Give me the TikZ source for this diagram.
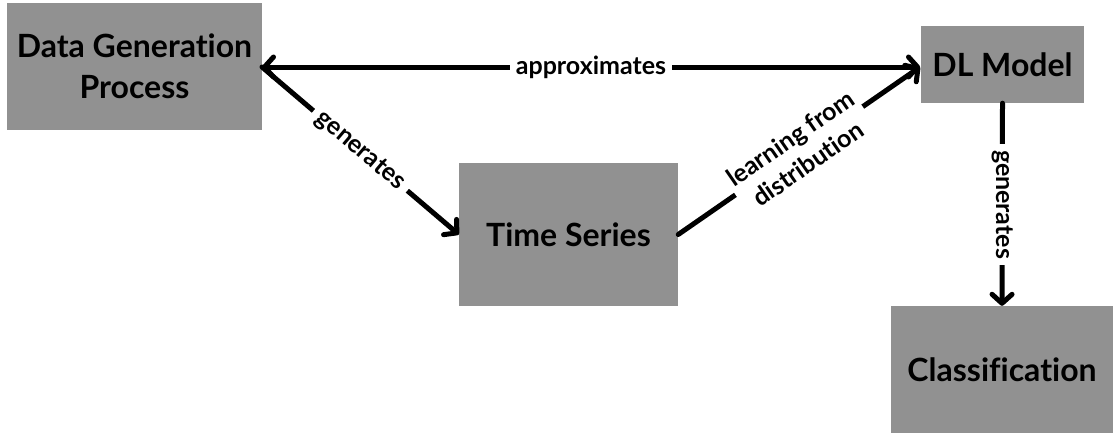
\documentclass[tikz,border=0pt]{standalone}
\usepackage{fontspec}
\setmainfont[Ligatures=NoCommon]{Lato}
\usetikzlibrary{arrows.meta}
\definecolor{boxgray}{HTML}{919191}
\begin{document}
\begin{tikzpicture}[x=1pt,y=-1pt,
  box/.style={fill=boxgray,draw=none,inner sep=0pt,align=center,
    font=\bfseries\fontsize{32}{41}\selectfont},
  barb/.tip={Straight Barb[length=9pt,width=20pt,line cap=round,line join=round]},
  link/.style={line width=5pt,line cap=round,-barb},
  twolink/.style={line width=5pt,line cap=round,barb-barb},
  lbl/.style={fill=white,inner sep=6pt,align=center,
    font=\bfseries\fontsize{25}{31}\selectfont}]
\useasboundingbox (0,0) rectangle (1113,434);

% boxes
\node[box,minimum width=255pt,minimum height=127pt] (dgp) at (134.5,66.5) {Data Generation\\Process};
\node[box,minimum width=163pt,minimum height=77pt] (dl) at (1002.5,64.5) {DL Model};
\node[box,minimum width=219pt,minimum height=143pt] (ts) at (568.5,234.5) {Time Series};
\node[box,minimum width=222pt,minimum height=127pt] (cls) at (1002,369.5) {Classification};

% anchor points of the connectors
\coordinate (dgpR) at (262,67);
\coordinate (dlL) at (920,67);

% connectors
\draw[twolink] (dgpR) -- (dlL)
  node[lbl,midway] {approximates};
\draw[link] (dgpR) -- (ts.west)
  node[lbl,midway,sloped,inner sep=7pt] {generates};
\draw[link] (ts.east) -- (dlL)
  node[lbl,midway,sloped,inner sep=3pt] {learning from\\distribution};
\draw[link] (dl.south) -- (cls.north)
  node[lbl,midway,rotate=-90,inner sep=6pt] {generates};
\end{tikzpicture}
\end{document}
